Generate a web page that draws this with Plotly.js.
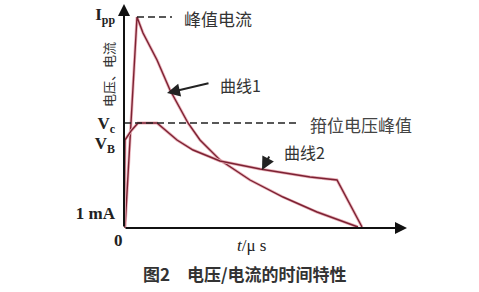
<!DOCTYPE html>
<html><head><meta charset="utf-8">
<script src="https://cdn.plot.ly/plotly-3.0.1.min.js"></script>
<style>html,body{margin:0;padding:0;background:#fff}#c{width:479px;height:292px}</style>
</head><body><div id="c"></div>
<script>
// time (arbitrary units) and values (arbitrary units)
const curve1T = [1, 13, 19, 33, 46, 64, 76, 96, 126, 159, 193, 229, 234];
const curve1V = [0, 211, 195, 168, 138, 105, 88, 68, 48, 31, 16, 3, 1];
const curve2T = [0, 1, 7, 14, 33, 41, 53, 69, 96, 136, 186, 213, 238];
const curve2V = [0, 88, 97, 105, 105, 98, 88, 78, 67, 59, 51, 48, 1];
const tickVals = [214, 105, 85, 15];
const tickText = ["<b>I<sub>pp</sub></b>", "<b>V<sub>c</sub></b>", "<b>V<sub>B</sub></b>", "<b>1 mA</b>"];
const ippLevel = 211, vcLevel = 105;

const halo = '#eab3bb', dark = '#7c2233';
const traces = [
  {x: curve1T, y: curve1V, mode: 'lines', line: {color: halo, width: 3}, hoverinfo: 'skip'},
  {x: curve1T, y: curve1V, mode: 'lines', line: {color: dark, width: 1.4}},
  {x: curve2T, y: curve2V, mode: 'lines', line: {color: halo, width: 3}, hoverinfo: 'skip'},
  {x: curve2T, y: curve2V, mode: 'lines', line: {color: dark, width: 1.4}},
  {x: [13, 48], y: [ippLevel, ippLevel], mode: 'lines', line: {color: '#222', width: 1.5, dash: '7px,4px'}},
  {x: [0, 176], y: [vcLevel, vcLevel], mode: 'lines', line: {color: '#222', width: 1.5, dash: '7px,4px'}}
];
const cjk = '"Noto Sans CJK SC", sans-serif';
const serif = 'Liberation Serif';
const layout = {
  width: 479, height: 292, showlegend: false,
  paper_bgcolor: '#fff', plot_bgcolor: '#fff',
  margin: {l: 124, r: 72, t: 4, b: 64},
  xaxis: {range: [0, 283], showgrid: false, zeroline: false, showline: false, showticklabels: false, ticks: ''},
  yaxis: {range: [0, 224], showgrid: false, zeroline: false, showline: false, ticks: '',
    tickvals: tickVals, ticktext: tickText, ticklabelstandoff: 8,
    tickfont: {family: serif, size: 17, color: '#222'}},
  annotations: [
    {x: 283, y: 0, ax: 0, ay: 0, axref: 'x', ayref: 'y', xref: 'x', yref: 'y', showarrow: true, arrowhead: 2, arrowsize: 1.2, arrowwidth: 2, arrowcolor: '#111', text: '', standoff: 0},
    {x: 0, y: 224, ax: 0, ay: 0, axref: 'x', ayref: 'y', xref: 'x', yref: 'y', showarrow: true, arrowhead: 2, arrowsize: 1.2, arrowwidth: 2, arrowcolor: '#111', text: '', standoff: 0},
    {x: 94, y: 210, xref: 'x', yref: 'y', text: '峰值电流', showarrow: false, font: {family: cjk, size: 17, color: '#333'}},
    {x: 237, y: 104, xref: 'x', yref: 'y', text: '箝位电压峰值', showarrow: false, font: {family: cjk, size: 17, color: '#444'}},
    {x: 116, y: 143, xref: 'x', yref: 'y', text: '曲线1', showarrow: false, font: {family: cjk, size: 16, color: '#333'}},
    {x: 180, y: 76, xref: 'x', yref: 'y', text: '曲线2', showarrow: false, font: {family: cjk, size: 16, color: '#333'}},
    {x: 43, y: 135, ax: 86, ay: 145, axref: 'x', ayref: 'y', xref: 'x', yref: 'y', showarrow: true, arrowhead: 2, arrowsize: 1.3, arrowwidth: 2, arrowcolor: '#222', text: ''},
    {x: 138, y: 58, ax: 146, ay: 73, axref: 'x', ayref: 'y', xref: 'x', yref: 'y', showarrow: true, arrowhead: 2, arrowsize: 1.3, arrowwidth: 2, arrowcolor: '#222', text: ''},
    {x: -0.0565, y: 0.683, xref: 'paper', yref: 'paper', xanchor: 'center', yanchor: 'middle', text: '电压、电流', textangle: -90, showarrow: false, font: {family: cjk, size: 13, color: '#333'}},
    {x: -0.021, y: -0.054, xref: 'paper', yref: 'paper', xanchor: 'center', yanchor: 'middle', text: '<b>0</b>', showarrow: false, font: {family: serif, size: 17, color: '#222'}},
    {x: 0.452, y: -0.076, xref: 'paper', yref: 'paper', xanchor: 'center', yanchor: 'middle', text: '<i>t</i>/μ s', showarrow: false, font: {family: serif, size: 17, color: '#222'}},
    {x: 0.4276, y: -0.201, xref: 'paper', yref: 'paper', xanchor: 'center', yanchor: 'middle', text: '<b>图2　电压/电流的时间特性</b>', showarrow: false, font: {family: cjk, size: 17, color: '#333'}}
  ]
};
Plotly.newPlot('c', traces, layout, {staticPlot: true, displayModeBar: false});
</script></body></html>
